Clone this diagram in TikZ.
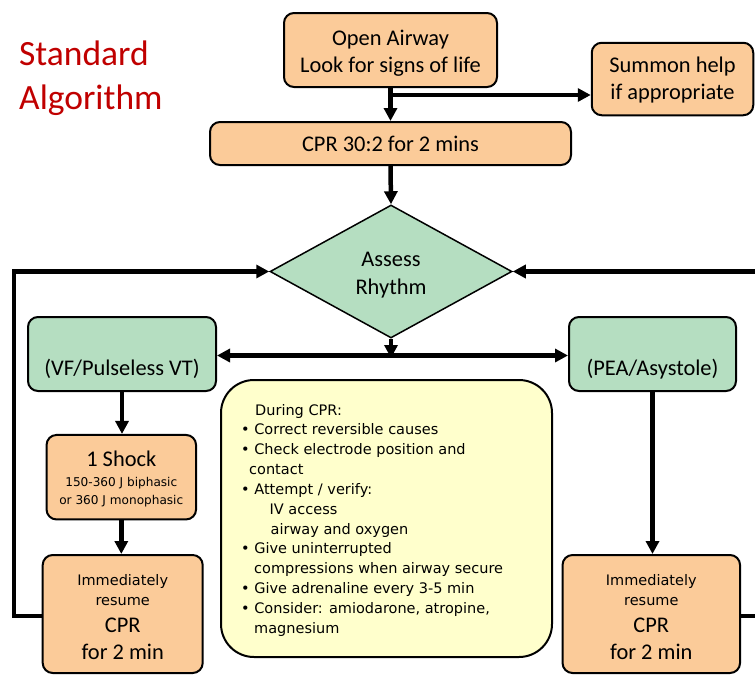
\documentclass[tikz,border=0pt]{standalone}
\usepackage{fontspec}
\setmainfont{Carlito}
\newfontfamily\dvs{DejaVu Sans}
\usetikzlibrary{shapes.geometric,arrows.meta}
\definecolor{peach}{RGB}{251,203,153}
\definecolor{mint}{RGB}{181,222,193}
\definecolor{cream}{RGB}{255,255,204}
\definecolor{titlered}{RGB}{192,0,0}
\begin{document}
\begin{tikzpicture}[x=1pt,y=-1pt,
  box/.style={draw=black,line width=2pt,rounded corners=10pt,fill=peach,align=center,inner sep=0pt,
    font=\fontsize{22.4}{27}\selectfont},
  gbox/.style={box,fill=mint},
  big/.style={font=\fontsize{22.4}{27}\selectfont,inner sep=0pt,anchor=base},
  small/.style={font=\dvs\fontsize{14.5}{17}\selectfont,inner sep=0pt,anchor=base},
  tiny/.style={font=\dvs\fontsize{12.1}{14}\selectfont,inner sep=0pt,anchor=base},
  note/.style={font=\dvs\fontsize{14.5}{17}\selectfont,inner sep=0pt,anchor=base west},
  arr/.style={line width=4.5pt,-{Triangle[length=13pt,width=13pt]}},
  ln/.style={line width=4.5pt}]
\path[use as bounding box,clip] (0,0) rectangle (755,675);

% title
\node[font=\fontsize{35.5}{43.6}\selectfont,text=titlered,inner sep=0pt,anchor=base west] (t1) at (19,65.7) {Standard};
\node[font=\fontsize{35.5}{43.6}\selectfont,text=titlered,inner sep=0pt,anchor=base west] (t2) at (19,109.3) {Algorithm};

% boxes
\node[box,minimum width=213pt,minimum height=74pt] (open) at (390.5,50) {};
\node[big] at (390.5,45) {Open Airway};
\node[big] at (390.5,72.3) {Look for signs of life};

\node[box,minimum width=161.5pt,minimum height=72.5pt] (help) at (672.5,79) {};
\node[big] at (672.5,72.7) {Summon help};
\node[big] at (672.5,99.3) {if appropriate};

\node[box,minimum width=361pt,minimum height=43pt] (cpr) at (390.5,143.5) {};
\node[big] at (390.5,151.7) {CPR 30:2 for 2 mins};

\node[diamond,draw=black,line width=1.5pt,fill=mint,minimum width=242pt,minimum height=133pt,
  aspect=1.82,inner sep=0pt] (assess) at (391,271.5) {};
\node[big] at (391,266.7) {Assess};
\node[big] at (391,294) {Rhythm};

\node[gbox,minimum width=188pt,minimum height=74pt] (vf) at (122,354) {};
\node[big] at (122,375) {(VF/Pulseless VT)};

\node[gbox,minimum width=167pt,minimum height=74pt] (pea) at (652.5,354) {};
\node[big] at (652.5,375) {(PEA/Asystole)};

\node[box,minimum width=149.5pt,minimum height=84.5pt] (shock) at (121.3,477.2) {};
\node[big] at (121.3,466.7) {1 Shock};
\node[tiny] at (121.3,486.7) {150-360 J biphasic};
\node[tiny] at (121.3,504.3) {or 360 J monophasic};

\node[box,minimum width=160pt,minimum height=118pt] (lcpr) at (122.7,614) {};
\node[small] at (122.7,585) {Immediately};
\node[small] at (122.7,605.7) {resume};
\node[big] at (122.7,632.3) {CPR};
\node[big] at (122.7,659) {for 2 min};

\node[box,minimum width=177.5pt,minimum height=118pt] (rcpr) at (651.3,614) {};
\node[small] at (651.3,585) {Immediately};
\node[small] at (651.3,605.7) {resume};
\node[big] at (651.3,632.3) {CPR};
\node[big] at (651.3,659) {for 2 min};

% note box
\node[draw=black,line width=2pt,rounded corners=33pt,fill=cream,minimum width=331pt,minimum height=277pt,inner sep=0pt] (during) at (386.5,518.5) {};
\foreach \xx/\tt [count=\i] in {255/{During CPR:},
  241/{• Correct reversible causes},
  241/{• Check electrode position and},
  249/{contact},
  241/{• Attempt / verify:},
  269.5/{IV access},
  270.5/{airway and oxygen},
  241/{• Give uninterrupted},
  254/{compressions when airway secure},
  241/{• Give adrenaline every 3-5 min},
  241/{• Consider: amiodarone, atropine,},
  254/{magnesium}}
  \node[note] at (\xx,{415+(\i-1)*19.85}) {\tt};

% connectors
\draw[arr] (open.south) -- (cpr.north);
\coordinate (hj) at (390.5,95);
\draw[arr] (hj) -- (help.west |- hj);
\draw[arr] (cpr.south) -- (assess.north);
\coordinate (junc) at (391,355.5);
\draw[arr] (assess.south) -- ([yshift=-2.5pt]junc);
\draw[arr] (junc) -- (vf.east |- junc);
\draw[arr] (junc) -- (pea.west |- junc);
\draw[arr] (vf.south) -- (vf.south |- shock.north);
\draw[arr] (shock.south) -- (shock.south |- lcpr.north);
\draw[arr] (pea.south) -- (pea.south |- rcpr.north);
\coordinate (lc) at (14,616);
\coordinate (rc) at (772,616);
\draw[arr] (lcpr.west |- lc) -- (lc) -- (lc |- assess.west) -- (assess.west);
\draw[arr] (rcpr.east |- rc) -- (rc) -- (rc |- assess.east) -- (assess.east);
\end{tikzpicture}
\end{document}
